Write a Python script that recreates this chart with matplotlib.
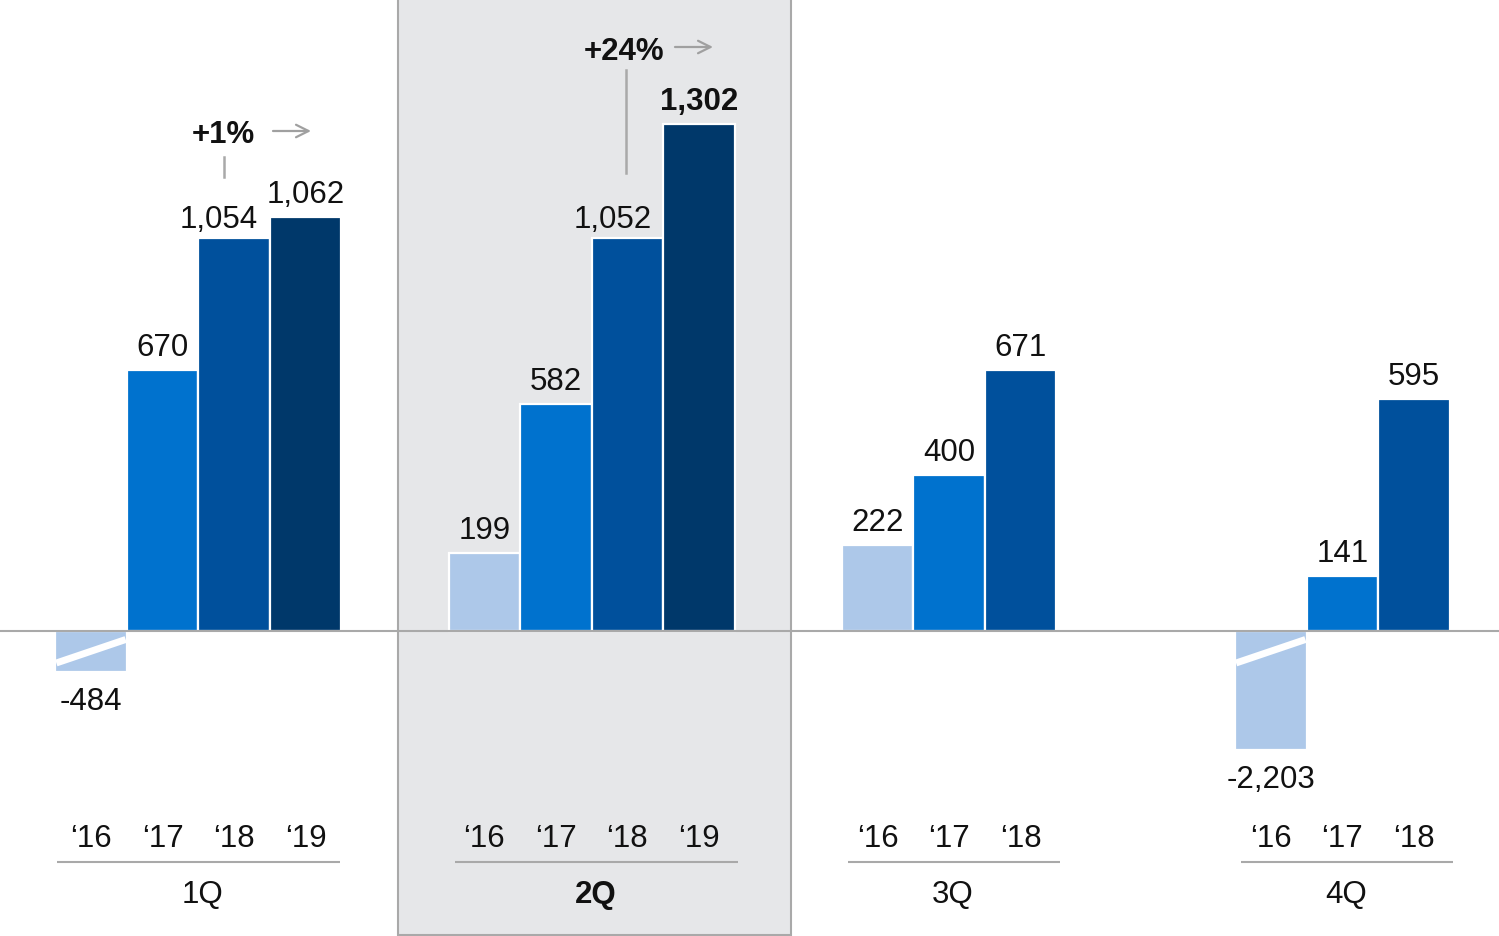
import matplotlib
matplotlib.use("Agg")
import matplotlib.pyplot as plt
from matplotlib.patches import Rectangle

plt.rcParams['font.family'] = ['Liberation Sans', 'DejaVu Sans']

# ---------------- data ----------------
quarters = ['1Q', '2Q', '3Q', '4Q']
years = ['\u201816', '\u201817', '\u201818', '\u201819']
q1_values = [-484, 670, 1054, 1062]
q2_values = [199, 582, 1052, 1302]
q3_values = [222, 400, 671]
q4_values = [-2203, 141, 595]
all_values = [q1_values, q2_values, q3_values, q4_values]
# bars drawn with adjusted length in the original (broken negatives, compressed ~1,050s)
display_override = {-484: -105, -2203: -305, 1054: 1010, 1052: 1010}
growth_labels = {'1Q': '+1%', '2Q': '+24%'}
highlight_quarter = '2Q'

year_colors = ['#adc8e9', '#0072ce', '#00509c', '#00386a']

# ---------------- layout ----------------
W, H, DPI = 1499, 936, 100
fig = plt.figure(figsize=(W / DPI, H / DPI), dpi=DPI)
ax = fig.add_axes([0, 0, 1, 1])
px_x = 71.5          # pixels per bar slot
px_y = 0.3895        # pixels per unit
x0_px, y0_px = 91, 631
ax.set_xlim(-x0_px / px_x, (W - x0_px) / px_x)
ax.set_ylim(-(H - y0_px) / px_y, y0_px / px_y)
ax.axis('off')
U = 1 / px_y   # units per pixel (y)
PX = 1 / px_x  # units per pixel (x)

group_step = 5.5
label_fs = 22.5
txt_color = '#111111'


def fmt(v):
    return f"{v:,}"


for gi, (q, vals) in enumerate(zip(quarters, all_values)):
    start = gi * group_step
    n = len(vals)
    xs = [start + j for j in range(n)]
    gcenter = start + (n - 1) / 2
    if q == highlight_quarter:
        left = start + 1.5 - 2.75 + 0.04
        right = start + 1.5 + 2.75 + 0.04
        ax.add_patch(Rectangle((left, -(H - y0_px) * U + 1 * U), right - left, 3000,
                               facecolor='#e6e7e9', edgecolor='#a9a9a9', lw=1.5, zorder=0))
    for j, (x, v) in enumerate(zip(xs, vals)):
        h = display_override.get(v, v)
        ax.bar(x, h, width=1.0, color=year_colors[j], edgecolor='white', linewidth=1.6, zorder=2)
        is_bold = (q == highlight_quarter and j == n - 1)
        if v >= 0:
            compressed = v in display_override
            lx = x - 15 * PX if compressed else x
            gap = 10 if compressed else 14
            ax.text(lx, h + gap * U, fmt(v), ha='center', va='baseline', fontsize=label_fs,
                    fontweight='bold' if is_bold else 'normal', color=txt_color, zorder=5)
        else:
            ax.text(x, h - 38 * U, fmt(v), ha='center', va='baseline', fontsize=label_fs,
                    color=txt_color, zorder=5)
            # white break stripe
            ax.plot([x - 0.485, x + 0.485], [-32 * U, -8.5 * U], color='white', lw=5,
                    solid_capstyle='butt', zorder=3)
        ax.text(x, -216 * U, years[j], ha='center', va='baseline', fontsize=label_fs,
                color=txt_color, zorder=5)
    # underline below year labels
    off = 0 if gi == 0 else 5 * PX
    ax.plot([xs[0] - 0.48 + off, xs[-1] + 0.48 + off], [-231 * U, -231 * U], color='#a9a9a9',
            lw=1.5, solid_capstyle='butt', zorder=4)
    ax.text(gcenter + 4 * PX, -272 * U, q, ha='center', va='baseline', fontsize=label_fs,
            fontweight='bold' if q == highlight_quarter else 'normal', color=txt_color, zorder=5)

# zero line
ax.axhline(0, color='#a9a9a9', lw=1.5, zorder=4)

# growth annotations
ann = {
    '1Q': dict(tx=(223 - x0_px) * PX, ty=(y0_px - 143) * U, lx=(224 - x0_px) * PX,
               ly=((y0_px - 157) * U, (y0_px - 177) * U),
               ax0=(273 - x0_px) * PX, ax1=(311 - x0_px) * PX, ay=(y0_px - 131) * U),
    '2Q': dict(tx=(624 - x0_px) * PX, ty=(y0_px - 60) * U, lx=(626 - x0_px) * PX,
               ly=((y0_px - 70) * U, (y0_px - 173) * U),
               ax0=(675 - x0_px) * PX, ax1=(713 - x0_px) * PX, ay=(y0_px - 47) * U),
}
for q, a in ann.items():
    ax.text(a['tx'], a['ty'], growth_labels[q], ha='center', va='baseline', fontsize=label_fs,
            fontweight='bold', color=txt_color, zorder=5)
    ax.plot([a['lx'], a['lx']], list(a['ly']), color='#a9a9a9', lw=1.8, zorder=4)
    ax.annotate('', xy=(a['ax1'], a['ay']), xytext=(a['ax0'], a['ay']),
                arrowprops=dict(arrowstyle='->,head_length=0.9,head_width=0.45', color='#a0a0a0',
                                lw=1.6, shrinkA=0, shrinkB=0), zorder=5)

fig.savefig('out.png', dpi=DPI)
